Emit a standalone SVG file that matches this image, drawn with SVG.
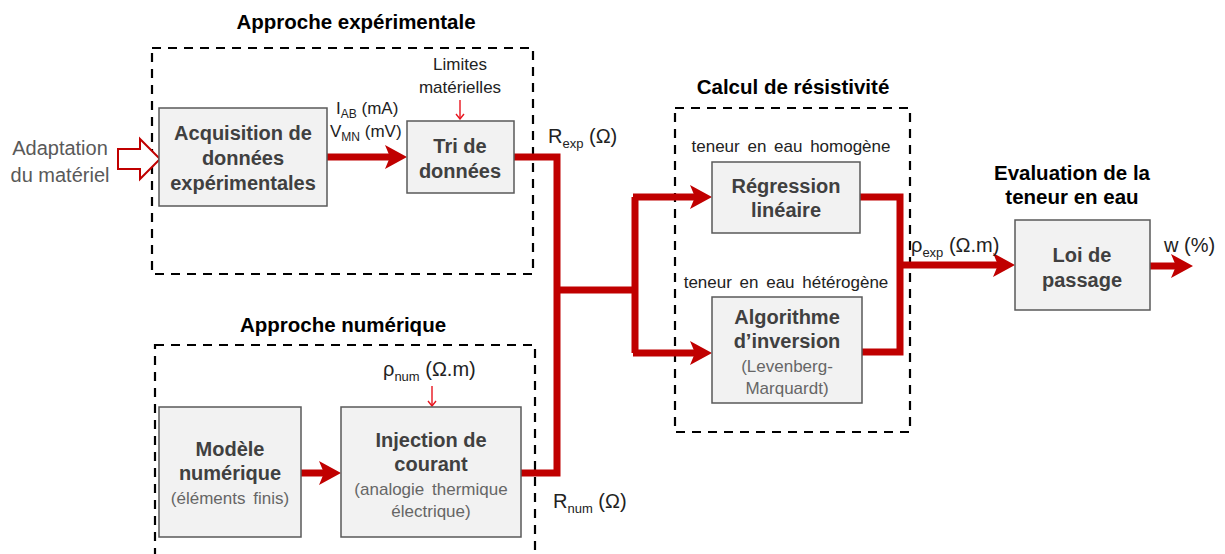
<svg xmlns="http://www.w3.org/2000/svg" width="1225" height="554" viewBox="0 0 1225 554">
<defs>
<style>
text{font-family:"Liberation Sans",Arial,sans-serif}
.title{font-size:20.5px;font-weight:bold;fill:#000;text-anchor:middle}
.lbl{font-size:20px;font-weight:bold;fill:#404040;text-anchor:middle}
.sub{font-size:17px;fill:#666;text-anchor:middle;word-spacing:3px}
.txt{font-size:17px;fill:#222}
.mid{text-anchor:middle}
.box{fill:#f2f2f2;stroke:#595959;stroke-width:1.5}
.group{fill:none;stroke:#000;stroke-width:2.2;stroke-dasharray:9,7}
.wire{fill:none;stroke:#c00000;stroke-width:7;stroke-linejoin:miter}
.thin{fill:none;stroke:#e8141e;stroke-width:1.4}
</style>
<marker id="ah" markerUnits="userSpaceOnUse" markerWidth="22" markerHeight="24" viewBox="0 0 22 24" refX="8" refY="12" orient="auto">
<path d="M0,0 L22,12 L0,24 L5,12 z" fill="#c00000"/>
</marker>
<marker id="sa" markerUnits="userSpaceOnUse" markerWidth="10" markerHeight="10" viewBox="0 0 10 10" refX="5" refY="9" orient="0">
<path d="M1,4 L5,9 L9,4" fill="none" stroke="#e8141e" stroke-width="1.4"/>
</marker>
</defs>
<rect width="1225" height="554" fill="#fff"/>

<g id="group-experimental">
<rect class="group" x="152" y="48" width="381" height="226"/>
<text class="title" x="356" y="29">Approche expérimentale</text>
</g>
<g id="group-numerique">
<rect class="group" x="155" y="345" width="380" height="230"/>
<text class="title" x="343" y="332">Approche numérique</text>
</g>
<g id="group-calcul">
<rect class="group" x="675" y="108" width="235" height="324"/>
<text class="title" x="793" y="94">Calcul de résistivité</text>
</g>
<g id="title-evaluation">
<text class="title" x="1072" y="180">Evaluation de la</text>
<text class="title" x="1072" y="204">teneur en eau</text>
</g>

<g id="connectors">
<path class="wire" d="M327,157 H393" marker-end="url(#ah)"/>
<path class="wire" d="M514,157 H557 V473 H521"/>
<path class="wire" d="M557,290 H635"/>
<path class="wire" d="M635,197 V353"/>
<path class="wire" d="M633,197 H698" marker-end="url(#ah)"/>
<path class="wire" d="M633,353 H698" marker-end="url(#ah)"/>
<path class="wire" d="M860,197 H900 V352 H862"/>
<path class="wire" d="M900,265 H1001" marker-end="url(#ah)"/>
<path class="wire" d="M1150,266 H1179" marker-end="url(#ah)"/>
<path class="wire" d="M301,473 H327" marker-end="url(#ah)"/>
<path class="thin" d="M460,100 V119" marker-end="url(#sa)"/>
<path class="thin" d="M432,386 V406" marker-end="url(#sa)"/>
<polygon points="118,149 140,149 140,139 160,159 140,179 140,169 118,169" fill="#fff" stroke="#c00000" stroke-width="2"/>
</g>

<g id="adaptation">
<text class="txt mid" x="60" y="155" style="font-size:20px;fill:#595959">Adaptation</text>
<text class="txt mid" x="60" y="182" style="font-size:20px;fill:#595959">du matériel</text>
</g>

<g id="acquisition">
<rect class="box" x="159" y="108" width="168" height="98"/>
<text class="lbl" x="243" y="140">Acquisition de</text>
<text class="lbl" x="243" y="165">données</text>
<text class="lbl" x="243" y="190">expérimentales</text>
</g>

<g id="tri">
<rect class="box" x="407" y="121" width="107" height="72"/>
<text class="lbl" x="460" y="153">Tri de</text>
<text class="lbl" x="460" y="178">données</text>
</g>

<g id="limites">
<text class="txt mid" x="460" y="70">Limites</text>
<text class="txt mid" x="460" y="93">matérielles</text>
</g>

<g id="iab">
<text class="txt" x="336" y="114">I<tspan font-size="12" dy="4">AB</tspan><tspan dy="-4"> (mA)</tspan></text>
<text class="txt" x="330" y="137">V<tspan font-size="12" dy="4">MN</tspan><tspan dy="-4"> (mV)</tspan></text>
</g>

<g id="rexp">
<text class="txt" x="548" y="143" style="font-size:20px">R<tspan font-size="13" dy="5">exp</tspan><tspan dy="-5"> (Ω)</tspan></text>
</g>

<g id="regression">
<text class="txt mid" x="791" y="152" style="word-spacing:3px">teneur en eau homogène</text>
<rect class="box" x="712" y="162" width="148" height="71"/>
<text class="lbl" x="786" y="193">Régression</text>
<text class="lbl" x="786" y="217">linéaire</text>
</g>

<g id="algorithme">
<text class="txt mid" x="786" y="288" style="word-spacing:3px">teneur en eau hétérogène</text>
<rect class="box" x="712" y="297" width="150" height="106"/>
<text class="lbl" x="787" y="324">Algorithme</text>
<text class="lbl" x="787" y="348">d’inversion</text>
<text class="sub" x="787" y="372">(Levenberg-</text>
<text class="sub" x="787" y="394">Marquardt)</text>
</g>

<g id="rhoexp">
<text class="txt" x="911" y="252" style="font-size:20px">ρ<tspan font-size="13" dy="5">exp</tspan><tspan dy="-5"> (Ω.m)</tspan></text>
</g>

<g id="loi">
<rect class="box" x="1015" y="220" width="135" height="90"/>
<text class="lbl" x="1082" y="262">Loi de</text>
<text class="lbl" x="1082" y="287">passage</text>
</g>

<g id="w">
<text class="txt" x="1164" y="252" style="font-size:20px">w (%)</text>
</g>

<g id="modele">
<rect class="box" x="159" y="407" width="142" height="130"/>
<text class="lbl" x="230" y="456">Modèle</text>
<text class="lbl" x="230" y="480">numérique</text>
<text class="sub" x="230" y="504">(éléments finis)</text>
</g>

<g id="injection">
<rect class="box" x="341" y="407" width="180" height="130"/>
<text class="lbl" x="431" y="447">Injection de</text>
<text class="lbl" x="431" y="471">courant</text>
<text class="sub" x="431" y="495">(analogie thermique</text>
<text class="sub" x="431" y="517">électrique)</text>
</g>

<g id="rhonum">
<text class="txt" x="383" y="376" style="font-size:20px">ρ<tspan font-size="13" dy="5">num</tspan><tspan dy="-5"> (Ω.m)</tspan></text>
</g>

<g id="rnum">
<text class="txt" x="553" y="508" style="font-size:20px">R<tspan font-size="13" dy="5">num</tspan><tspan dy="-5"> (Ω)</tspan></text>
</g>
</svg>
